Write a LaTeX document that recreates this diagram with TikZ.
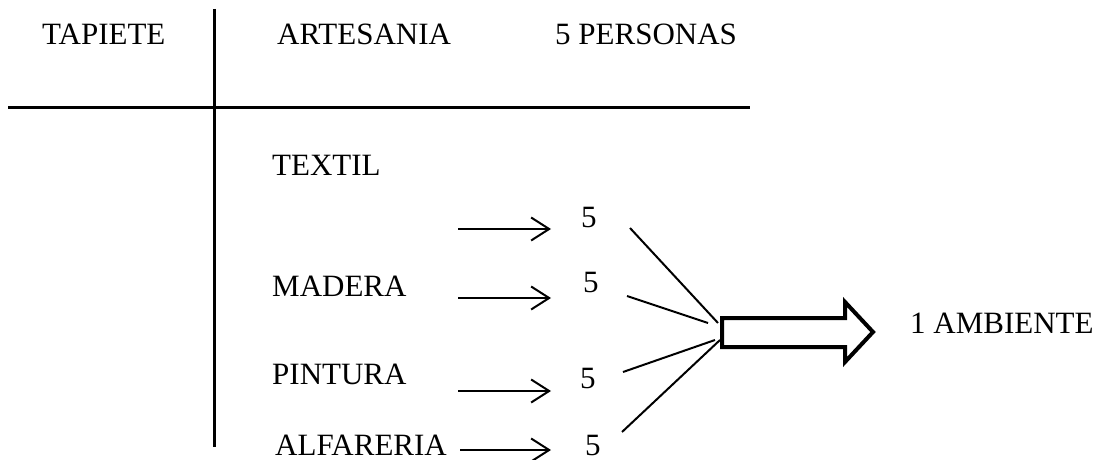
\documentclass[tikz,border=0pt]{standalone}
\usepackage{fontspec}
\setmainfont{Liberation Serif}
\usetikzlibrary{arrows.meta}
\begin{document}
\begin{tikzpicture}[x=1pt,y=-1pt,
  lbl/.style={anchor=base west,inner sep=0pt,font=\fontsize{31}{37}\selectfont},
  rule/.style={line width=3pt},
  thinarrow/.style={line width=2pt,-{Straight Barb[length=18pt,width=23pt,line width=2pt]}},
  conn/.style={line width=2pt},
  blockarrow/.style={line width=4pt,line join=miter,fill=white}]
\useasboundingbox (0,0) rectangle (1098,460);
% table rules
\coordinate (vtop) at (214,9);
\coordinate (vbot) at (214,447);
\coordinate (hl) at (8,107);
\coordinate (hr) at (750,107);
\draw[rule] (vtop) -- (vbot);
\draw[rule] (hl) -- (hr);
% header texts
\node[lbl] (tap) at (42,45) {TAPIETE};
\node[lbl] (art) at (277,45) {ARTESANIA};
\node[lbl] (per) at (555,45) {5 PERSONAS};
% categories
\node[lbl] (tex) at (272,175) {TEXTIL};
\node[lbl] (mad) at (272,296) {MADERA};
\node[lbl] (pin) at (272,384) {PINTURA};
\node[lbl] (alf) at (275,455) {ALFARERIA};
% numbers
\node[lbl] (n1) at (581,227) {5};
\node[lbl] (n2) at (583,292) {5};
\node[lbl] (n3) at (580,388) {5};
\node[lbl] (n4) at (585,455) {5};
% thin arrows
\coordinate (a1s) at (458,229); \coordinate (a1e) at (551,229);
\coordinate (a2s) at (458,298); \coordinate (a2e) at (551,298);
\coordinate (a3s) at (458,391); \coordinate (a3e) at (551,391);
\coordinate (a4s) at (460,450); \coordinate (a4e) at (551,450);
\draw[thinarrow] (a1s) -- (a1e);
\draw[thinarrow] (a2s) -- (a2e);
\draw[thinarrow] (a3s) -- (a3e);
\draw[thinarrow] (a4s) -- (a4e);
% converging lines
\coordinate (c1s) at (630,228); \coordinate (c1e) at (718,323);
\coordinate (c2s) at (627,296); \coordinate (c2e) at (708,323);
\coordinate (c3s) at (623,372); \coordinate (c3e) at (715,340);
\coordinate (c4s) at (622,432); \coordinate (c4e) at (720,340);
\draw[conn] (c1s) -- (c1e);
\draw[conn] (c2s) -- (c2e);
\draw[conn] (c3s) -- (c3e);
\draw[conn] (c4s) -- (c4e);
% block arrow
\draw[blockarrow] (722,318) -- (845,318) -- (845,302) -- (873,332) -- (845,362) -- (845,347) -- (722,347) -- cycle;
\node[lbl] (amb) at (910,333) {1 AMBIENTE};
\end{tikzpicture}
\end{document}
